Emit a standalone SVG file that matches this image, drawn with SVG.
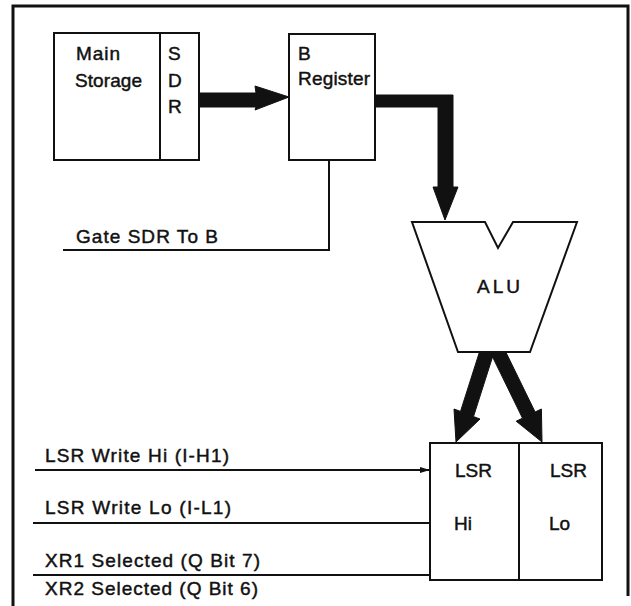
<svg xmlns="http://www.w3.org/2000/svg" width="631" height="606" viewBox="0 0 631 606">
<style>
.t{font-family:"Liberation Sans",Arial,sans-serif;font-size:19px;fill:#111;stroke:#111;stroke-width:0.45;}
.box{fill:#fff;stroke:#111;stroke-width:2;}
.ln{fill:none;stroke:#111;stroke-width:2;}
.bus{fill:#111;stroke:#111;stroke-width:1;stroke-linejoin:round;}
</style>
<defs>
<marker id="ah" markerWidth="10" markerHeight="8" refX="10" refY="4" orient="auto" markerUnits="userSpaceOnUse">
<path d="M0,1 L10,4 L0,7 Z" fill="#111"/>
</marker>
</defs>
<rect x="0" y="0" width="631" height="606" fill="#fff"/>
<g id="frame">
<path d="M13,606 L13,6 L628,6 L628,596" fill="none" stroke="#111" stroke-width="3"/>
</g>
<g id="connectors">
<path class="bus" d="M199,93 L256,93 L255,86 L289,97 L255,110 L256,107 L199,107 Z"/>
<path class="bus" d="M375,95 L453,95 L453,187 L458,187 L445,220 L433,187 L438,187 L438,107 L375,107 Z"/>
<path class="ln" d="M329,160 L329,250 L63,250"/>
<path class="bus" d="M495.5,347.6 L473.5,416.6 L480,419 L456,442 L454,409 L460.5,411.4 L482.5,342.4 Z"/>
<path class="bus" d="M503.3,346.9 L535.1,412 L541.4,409 L542,442 L516.2,421.2 L522.5,418.2 L490.7,353.1 Z"/>
<line class="ln" x1="35" y1="470" x2="430" y2="470" marker-end="url(#ah)"/>
<line class="ln" x1="33" y1="523" x2="430" y2="523"/>
<line class="ln" x1="33" y1="575" x2="430" y2="575"/>
</g>
<g id="main-storage">
<rect class="box" x="54" y="33" width="106" height="127"/>
<text class="t" x="76" y="60" textLength="44" lengthAdjust="spacing">Main</text>
<text class="t" x="75" y="87" textLength="67" lengthAdjust="spacing">Storage</text>
</g>
<g id="sdr">
<rect class="box" x="160" y="33" width="39" height="127"/>
<text class="t" x="168" y="60">S</text>
<text class="t" x="168" y="87">D</text>
<text class="t" x="168" y="113">R</text>
</g>
<g id="b-register">
<rect class="box" x="289" y="34" width="86" height="126"/>
<text class="t" x="298" y="60">B</text>
<text class="t" x="298" y="85" textLength="72" lengthAdjust="spacing">Register</text>
</g>
<g id="alu">
<polygon class="box" points="412,222 485,222 498,248 513,222 577,222 530,352 458,352"/>
<text class="t" x="477" y="293" textLength="43" lengthAdjust="spacing">ALU</text>
</g>
<g id="lsr-hi">
<rect class="box" x="430" y="443" width="89" height="137"/>
<text class="t" x="455" y="477" textLength="37" lengthAdjust="spacing">LSR</text>
<text class="t" x="454" y="530">Hi</text>
</g>
<g id="lsr-lo">
<rect class="box" x="519" y="443" width="83" height="137"/>
<text class="t" x="550" y="477" textLength="37" lengthAdjust="spacing">LSR</text>
<text class="t" x="549" y="530">Lo</text>
</g>
<g id="labels">
<text class="t" x="76" y="243" textLength="142" lengthAdjust="spacing">Gate SDR To B</text>
<text class="t" x="45" y="462" textLength="184" lengthAdjust="spacing">LSR Write Hi (I-H1)</text>
<text class="t" x="45" y="514" textLength="186" lengthAdjust="spacing">LSR Write Lo (I-L1)</text>
<text class="t" x="45" y="567" textLength="215" lengthAdjust="spacing">XR1 Selected (Q Bit 7)</text>
<text class="t" x="45" y="595" textLength="213" lengthAdjust="spacing">XR2 Selected (Q Bit 6)</text>
</g>
</svg>
